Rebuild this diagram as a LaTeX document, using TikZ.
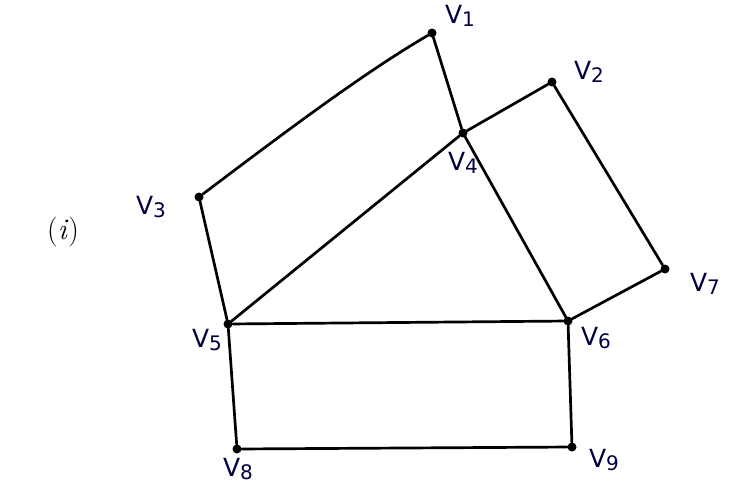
\documentclass[tikz,border=0pt]{standalone}
\usepackage{fontspec}
\setsansfont{DejaVu Sans}
\newcommand{\vl}[1]{V\raisebox{-3pt}{\fontsize{20}{22}\selectfont #1}}
\begin{document}
\begin{tikzpicture}[x=1pt,y=-1pt,
  vtx/.style={circle,fill=black,inner sep=0pt,minimum size=9pt},
  lbl/.style={font=\sffamily\fontsize{25}{27}\selectfont,text=blue!25!black},
  edge/.style={draw=black,line width=2.7pt,line cap=round}]
\useasboundingbox (0,0) rectangle (729,491);
\node[vtx] (v1) at (432,33) {};
\node[vtx] (v2) at (552,82) {};
\node[vtx] (v3) at (199,197) {};
\node[vtx] (v4) at (463,133) {};
\node[vtx] (v5) at (228,324) {};
\node[vtx] (v6) at (568,321) {};
\node[vtx] (v7) at (665,269) {};
\node[vtx] (v8) at (237,449) {};
\node[vtx] (v9) at (572,447) {};
\node[lbl] (l1) at (460,16) {\vl{1}};
\node[lbl] (l2) at (589,72) {\vl{2}};
\node[lbl] (l3) at (151,207) {\vl{3}};
\node[lbl] (l4) at (463,163) {\vl{4}};
\node[lbl] (l5) at (207,340) {\vl{5}};
\node[lbl] (l6) at (596,338) {\vl{6}};
\node[lbl] (l7) at (705,284) {\vl{7}};
\node[lbl] (l8) at (238,469) {\vl{8}};
\node[lbl] (l9) at (604,460) {\vl{9}};
\node[font=\fontsize{30}{32}\selectfont] (lab) at (63,232) {(\textit{i})};
\draw[edge] (v3) .. controls (285,132) and (365,72) .. (v1);
\draw[edge] (v1) -- (v4);
\draw[edge] (v4) -- (v2);
\draw[edge] (v2) -- (v7);
\draw[edge] (v7) -- (v6);
\draw[edge] (v4) -- (v6);
\draw[edge] (v4) -- (v5);
\draw[edge] (v3) -- (v5);
\draw[edge] (v5) -- (v6);
\draw[edge] (v5) -- (v8);
\draw[edge] (v8) -- (v9);
\draw[edge] (v9) -- (v6);
\end{tikzpicture}
\end{document}
